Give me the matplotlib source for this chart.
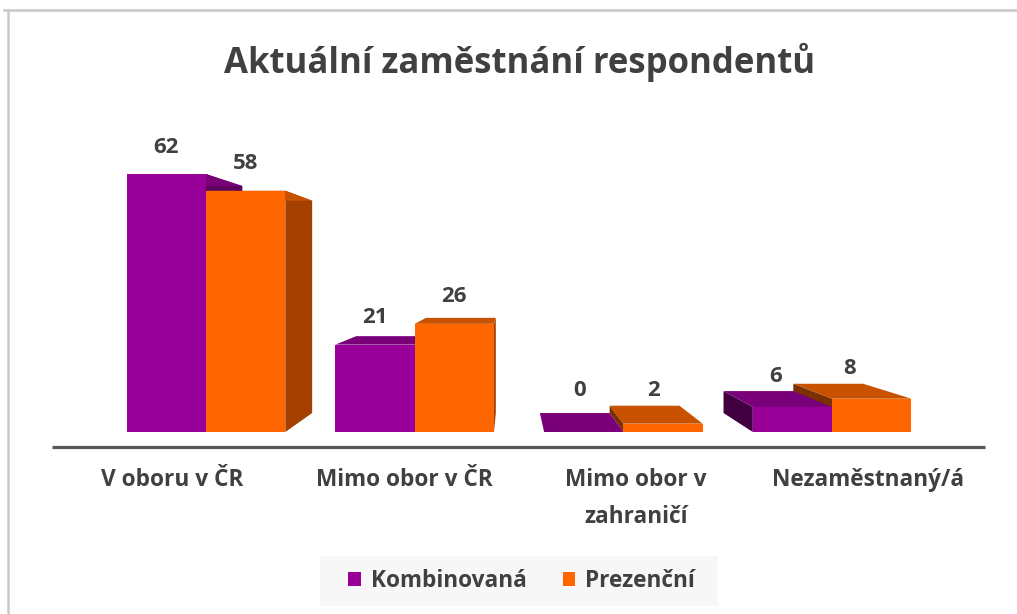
import matplotlib
matplotlib.use("Agg")
import matplotlib.pyplot as plt
from matplotlib.patches import Polygon, Patch, Rectangle
from matplotlib.lines import Line2D

plt.rcParams['font.family'] = ['Open Sans', 'DejaVu Sans']

# ---------------- data ----------------
categories = ["V oboru v ČR", "Mimo obor v ČR", "Mimo obor v\nzahraničí", "Nezaměstnaný/á"]
series_names = ["Kombinovaná", "Prezenční"]
kombinovana = [62, 21, 0, 6]
prezencni = [58, 26, 2, 8]
title = "Aktuální zaměstnání respondentů"

# ---------------- styles ----------------
front_cols = ["#990099", "#ff6600"]
top_cols = ["#7a007a", "#c85200"]
right_cols = ["#5e005e", "#a34000"]
left_cols = ["#400040", "#7a3000"]
text_col = "#404040"

W, H = 1017, 614
fig = plt.figure(figsize=(W / 100, H / 100), dpi=100)
ax = fig.add_axes([0, 0, 1, 1])
ax.set_axis_off()

# axis scale: category spacing ~208.7 px, 4.16 px per unit, baseline at 432 px
px_per_cat = 208.7
px_per_unit = 4.16
x0_px, base_px = 206, 432
ax.set_xlim(-x0_px / px_per_cat, (W - x0_px) / px_per_cat)
ax.set_ylim(-(H - base_px) / px_per_unit, base_px / px_per_unit)

bar_w = 0.38
vp = (1.452, 38.0)   # vanishing point (data coords)
k = 0.12             # depth factor


def back(p):
    return (p[0] + k * (vp[0] - p[0]), p[1] + k * (vp[1] - p[1]))


bars = []
for s, vals in enumerate([kombinovana, prezencni]):
    for i, v in enumerate(vals):
        xl = i - bar_w if s == 0 else i
        bars.append((s, i, xl, v))

# painter's order: farthest from vanishing point first
bars.sort(key=lambda b: -abs(b[2] + bar_w / 2 - vp[0]))

for s, i, xl, v in bars:
    xr = xl + bar_w
    fbl, fbr, ftr, ftl = (xl, 0), (xr, 0), (xr, v), (xl, v)
    bbl, bbr, btr, btl = back(fbl), back(fbr), back(ftr), back(ftl)
    if xr < vp[0]:
        ax.add_patch(Polygon([fbr, bbr, btr, ftr], closed=True, fc=right_cols[s], ec='none', zorder=2))
    if xl > vp[0]:
        ax.add_patch(Polygon([fbl, bbl, btl, ftl], closed=True, fc=left_cols[s], ec='none', zorder=2))
    ax.add_patch(Polygon([ftl, ftr, btr, btl], closed=True, fc=top_cols[s], ec='none', zorder=2))
    if v > 0:
        ax.bar(xl, v, width=bar_w, align='edge', color=front_cols[s], zorder=2)

# value labels
for s, vals in enumerate([kombinovana, prezencni]):
    for i, v in enumerate(vals):
        xc = i - bar_w / 2 if s == 0 else i + bar_w / 2
        if xc > vp[0]:
            xc -= 0.06 * (xc - vp[0])
        ax.text(xc, max(v + 6.5, 10) + (0.8 if xc > vp[0] and v > 3 else 0), str(v),
                ha='center', va='center', fontsize=16, fontweight='bold',
                color=text_col, zorder=5)

# floor / axis line
ax.plot([-0.738, 3.733], [-3.6, -3.6], color="#595959", lw=2.3, solid_capstyle='butt', zorder=3)

# category labels (projected onto front of floor)
for i, c in enumerate(categories):
    xl = vp[0] + 1.11 * (i - vp[0])
    ax.text(xl, -8.6, c, ha='center', va='top', fontsize=16.3, fontweight='bold',
            color=text_col, linespacing=1.75)

# title
fig.text(0.511, 1 - 62 / H, title, ha='center', va='center', fontsize=25,
         fontweight='bold', color=text_col)

# legend background box
fig.add_artist(Rectangle((320 / W, (H - 606) / H), 398 / W, 50 / H,
                         transform=fig.transFigure, fc="#f7f7f7", ec='none', zorder=0))
handles = [Patch(facecolor=front_cols[0]), Patch(facecolor=front_cols[1])]
leg = fig.legend(handles, series_names, loc='center', bbox_to_anchor=(0.513, 1 - 581 / H),
                 ncol=2, frameon=False, fontsize=16.3,
                 handlelength=0.55, handleheight=0.55, handletextpad=0.45, columnspacing=1.6)
for t in leg.get_texts():
    t.set_color(text_col)
    t.set_fontweight('bold')

# outer border (top and left)
fig.add_artist(Line2D([4 / W, 1], [1 - 10 / H, 1 - 10 / H], color="#c8c8c8", lw=1.8))
fig.add_artist(Line2D([8 / W, 8 / W], [0, 1 - 10 / H], color="#c8c8c8", lw=1.8))

fig.savefig("out.png", dpi=100, facecolor='white')
